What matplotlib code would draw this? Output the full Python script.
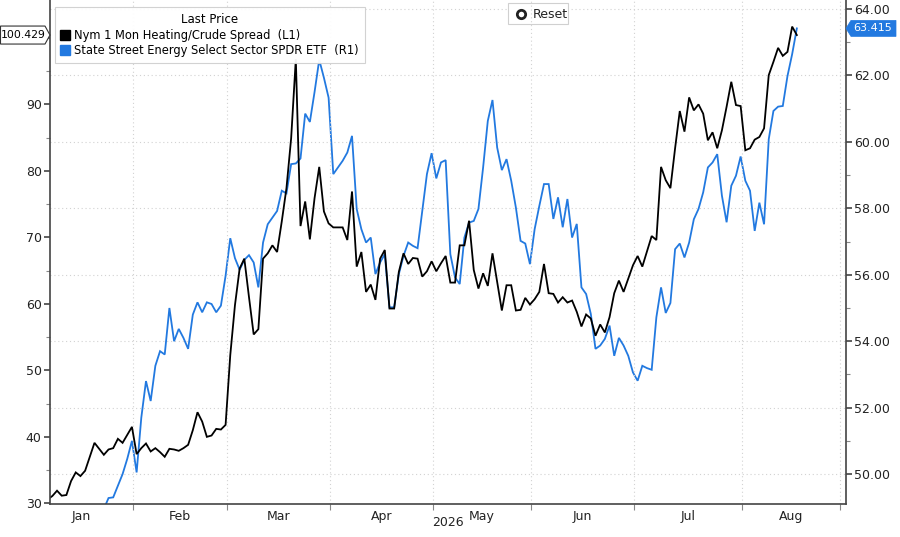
import matplotlib
matplotlib.use("Agg")
import matplotlib.pyplot as plt
import matplotlib.transforms as mtransforms
from matplotlib.patches import Polygon, Rectangle
from matplotlib.lines import Line2D
import numpy as np
import pandas as pd

# Nym 1 Mon Heating/Crude Spread, business days 2026-01-06 .. 2026-08-18
spread_dates = pd.bdate_range("2026-01-06", "2026-08-18")
spread = [
    30.6, 31.1, 31.9, 31.15, 31.25, 33.35, 34.65, 34.1, 34.9, 37.0,
    39.1, 38.2, 37.3, 38.1, 38.3, 39.7, 39.1, 40.3, 41.5, 37.4,
    38.3, 39.0, 37.8, 38.3, 37.7, 37.0, 38.2, 38.1, 37.9, 38.3,
    38.8, 41.0, 43.7, 42.3, 40.0, 40.2, 41.2, 41.1, 41.8, 52.3,
    59.8, 65.3, 66.8, 61.0, 55.4, 56.2, 66.8, 67.6, 68.8, 67.8,
    72.4, 77.4, 84.9, 96.8, 71.7, 75.4, 69.7, 75.9, 80.6, 73.9,
    72.1, 71.5, 71.5, 71.5, 69.6, 76.9, 65.6, 67.8, 61.8, 62.9,
    60.6, 66.8, 68.1, 59.3, 59.3, 64.8, 67.6, 66.0, 66.9, 66.8,
    64.1, 64.9, 66.4, 64.9, 66.1, 67.2, 63.2, 63.2, 68.8, 68.8,
    72.5, 65.1, 62.3, 64.6, 62.7, 67.6, 63.3, 59.0, 62.8, 62.8,
    59.0, 59.1, 60.9, 59.9, 60.7, 61.8, 66.0, 61.6, 61.5, 60.2,
    61.0, 60.2, 60.5, 58.8, 56.6, 58.4, 57.8, 55.2, 56.9, 55.7,
    58.0, 61.6, 63.5, 61.8, 63.8, 65.8, 67.2, 65.6, 67.9, 70.2,
    69.6, 80.6, 78.6, 77.4, 83.4, 89.0, 85.9, 91.05, 89.1, 90.0,
    88.6, 84.6, 85.8, 83.4, 86.1, 89.65, 93.4, 89.9, 89.75, 83.1,
    83.4, 84.7, 85.1, 86.4, 94.4, 96.4, 98.5, 97.3, 97.9, 101.7,
    100.429,
]

# State Street Energy Select Sector SPDR ETF
xle_dates = pd.bdate_range("2026-01-22", "2026-08-18")
xle = [
    48.95, 49.28, 49.3, 49.65, 50.0, 50.46, 51.0, 50.05, 51.7, 52.8,
    52.2, 53.26, 53.7, 53.6, 55.0, 54.0, 54.37, 54.1, 53.77, 54.8,
    55.17, 54.87, 55.17, 55.12, 54.87, 55.07, 55.97, 57.1, 56.5, 56.15,
    56.45, 56.59, 56.37, 55.62, 56.97, 57.52, 57.72, 57.92, 58.53, 58.45,
    59.33, 59.35, 59.5, 60.85, 60.6, 61.5, 62.47, 61.93, 61.33, 59.03,
    59.23, 59.43, 59.68, 60.18, 57.98, 57.37, 56.97, 57.12, 56.02, 56.37,
    56.62, 55.02, 55.02, 56.02, 56.57, 56.97, 56.87, 56.8, 57.92, 59.03,
    59.66, 58.9, 59.38, 59.45, 56.62, 55.92, 55.72, 57.12, 57.57, 57.62,
    57.98, 59.23, 60.63, 61.26, 59.83, 59.15, 59.48, 58.83, 58.02, 57.02,
    56.94, 56.32, 57.37, 58.07, 58.73, 58.73, 57.68, 58.33, 57.43, 58.28,
    57.12, 57.53, 55.62, 55.42, 54.82, 53.77, 53.87, 54.07, 54.47, 53.56,
    54.1, 53.87, 53.56, 53.06, 52.81, 53.26, 53.19, 53.14, 54.72, 55.62,
    54.85, 55.15, 56.77, 56.94, 56.52, 56.97, 57.67, 57.98, 58.48, 59.23,
    59.38, 59.63, 58.38, 57.58, 58.68, 58.98, 59.56, 58.83, 58.53, 57.32,
    58.17, 57.52, 60.08, 60.93, 61.06, 61.08, 61.98, 62.64, 63.415,
]

months = ["Jan", "Feb", "Mar", "Apr", "May", "Jun", "Jul", "Aug"]
left_ticks = [30, 40, 50, 60, 70, 80, 90, 100]
right_ticks = [50, 52, 54, 56, 58, 60, 62, 64]

labels = ["Nym 1 Mon Heating/Crude Spread  (L1)",
          "State Street Energy Select Sector SPDR ETF  (R1)"]
BLUE = "#2279e0"
GRID = "#d2d2d2"
SPINE = "#444444"

plt.rcParams["font.family"] = ["DejaVu Sans"]

# x axis is business-day index (weekends squeezed out, like the terminal)
cal = pd.bdate_range("2026-01-01", "2026-09-30")
x_spread = cal.get_indexer(spread_dates)
x_xle = cal.get_indexer(xle_dates)
bounds = [cal.get_indexer([cal[cal.month == m][0]])[0] - 0.75 for m in range(1, 10)]
centers = [(bounds[k] + bounds[k + 1]) / 2 for k in range(8)]

fig = plt.figure(figsize=(9, 5.37), dpi=100)
ax = fig.add_axes([50 / 900, 1 - 504 / 537, 796 / 900, 504 / 537])
ax2 = ax.twinx()
ax.set_zorder(ax2.get_zorder() + 1)
ax.patch.set_visible(False)

ax2.plot(x_xle, xle, color=BLUE, lw=1.3, solid_joinstyle="miter")
ax.plot(x_spread, spread, color="black", lw=1.3, solid_joinstyle="miter")

ax.set_xlim(3.5, 173.5)
ax.set_ylim(29.9, 105.7)
ax2.set_ylim(49.1, 64.27)

ax.set_yticks(left_ticks)
ax.set_yticklabels([str(v) if v < 100 else "" for v in left_ticks])
ax.set_yticks([v + 5 for v in left_ticks[:-1]], minor=True)
ax2.set_yticks(right_ticks)
ax2.set_yticklabels(["%.2f" % v for v in right_ticks])
ax2.set_yticks([v + 1 for v in right_ticks[:-1]], minor=True)

ax.set_xticks(bounds[1:])
ax.set_xticklabels([])
ax.set_xticks(centers, minor=True)
ax.set_xticklabels(months, minor=True)

ax2.grid(axis="y", which="major", color=GRID, linestyle=(0, (1, 2.5)), lw=0.8)
ax.grid(axis="x", which="major", color=GRID, linestyle=(0, (1, 2.5)), lw=0.8)

for s in ["top", "right"]:
    ax.spines[s].set_visible(False)
for s in ["top", "left", "bottom"]:
    ax2.spines[s].set_visible(False)
for sp in [ax.spines["left"], ax.spines["bottom"], ax2.spines["right"]]:
    sp.set_color(SPINE)
    sp.set_linewidth(1.2)

ax.tick_params(axis="y", which="major", direction="out", length=4, width=1.2,
               color=SPINE, labelsize=9, pad=2, labelcolor="#222222")
ax.tick_params(axis="y", which="minor", direction="out", length=3, width=0.8, color="#888888")
ax2.tick_params(axis="y", which="major", direction="out", length=4, width=1.2,
                color=SPINE, labelsize=9, pad=2, labelcolor="#222222")
ax2.tick_params(axis="y", which="minor", direction="out", length=3, width=0.8, color="#888888")
ax.tick_params(axis="x", which="major", direction="out", length=4, width=0.8, color="#888888")
ax.tick_params(axis="x", which="minor", length=0, labelsize=9, pad=4, labelcolor="#222222")

fig.text(448 / 900, 1 - 523 / 537, "2026", ha="center", va="center", fontsize=9, color="#222222")

# last price tags
v = spread[-1]
tl = mtransforms.blended_transform_factory(fig.transFigure, ax.transData)
h = 9 / 6.65
ax.add_patch(Polygon([(0.5 / 900, v - h), (45 / 900, v - h), (50 / 900, v),
                      (45 / 900, v + h), (0.5 / 900, v + h)],
                     closed=True, transform=tl, facecolor="white", edgecolor="#333333",
                     lw=0.8, clip_on=False, zorder=10))
ax.text(23 / 900, v, "%.3f" % v, transform=tl, ha="center", va="center",
        fontsize=7.8, color="black", clip_on=False, zorder=11)

v = xle[-1]
tr = mtransforms.blended_transform_factory(fig.transFigure, ax2.transData)
h = 8 / 33.22
ax2.add_patch(Polygon([(846 / 900, v), (851 / 900, v + h), (896 / 900, v + h),
                       (896 / 900, v - h), (851 / 900, v - h)],
                      closed=True, transform=tr, facecolor=BLUE, edgecolor=BLUE,
                      lw=0.5, clip_on=False, zorder=10))
ax2.text(873 / 900, v, "%.3f" % v, transform=tr, ha="center", va="center",
         fontsize=8, color="white", clip_on=False, zorder=11)

# legend
handles = [Line2D([], [], ls="none", marker="s", markersize=7, color="black"),
           Line2D([], [], ls="none", marker="s", markersize=7, color=BLUE)]
leg = fig.legend(handles, labels, title="Last Price", loc="upper left",
                 bbox_to_anchor=(55 / 900, 1 - 7 / 537), borderaxespad=0,
                 fontsize=8.3, title_fontsize=8.5, frameon=True, fancybox=False,
                 edgecolor="#d0d0d0", framealpha=0.95, handlelength=0.7,
                 handletextpad=0.4, labelspacing=0.2, borderpad=0.55)
leg.get_frame().set_linewidth(0.8)

# Reset button
fig.add_artist(Rectangle((508 / 900, 1 - 24 / 537), 60 / 900, 21 / 537,
                         transform=fig.transFigure, facecolor="white",
                         edgecolor="#d0d0d0", lw=0.8))
fig.add_artist(Line2D([521 / 900], [1 - 14 / 537], marker="o", markersize=6,
                      markerfacecolor="white", markeredgecolor="#222222",
                      markeredgewidth=2, transform=fig.transFigure))
fig.text(533 / 900, 1 - 14 / 537, "Reset", ha="left", va="center", fontsize=9, color="#222222")

fig.savefig("out.png", dpi=100)
